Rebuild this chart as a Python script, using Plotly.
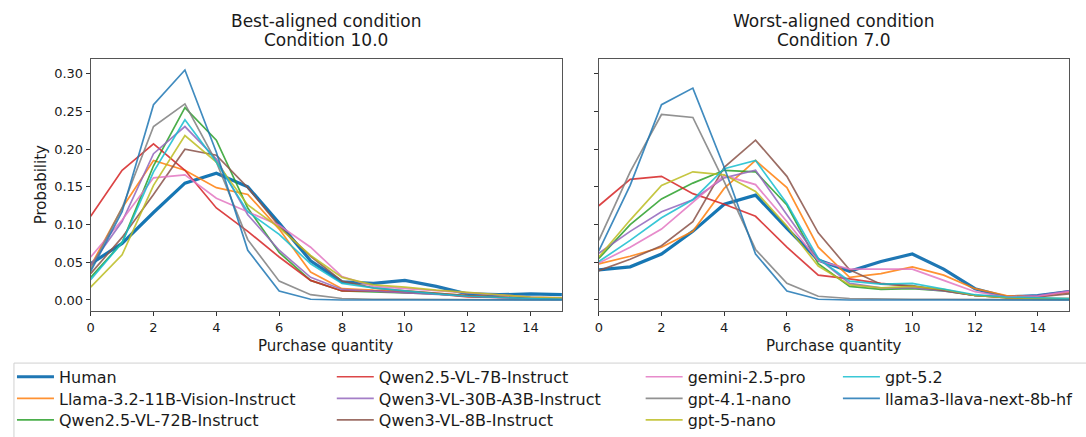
import plotly.graph_objects as go

W, H = 1086, 437

quantity = list(range(16))
x_ticks = [0, 2, 4, 6, 8, 10, 12, 14]
y_ticks = [0.0, 0.05, 0.10, 0.15, 0.20, 0.25, 0.30]

titles = [["Best-aligned condition", "Condition 10.0"], ["Worst-aligned condition", "Condition 7.0"]]
x_label = "Purchase quantity"
y_label = "Probability"

models = ["Human", "Llama-3.2-11B-Vision-Instruct", "Qwen2.5-VL-72B-Instruct",
          "Qwen2.5-VL-7B-Instruct", "Qwen3-VL-30B-A3B-Instruct", "Qwen3-VL-8B-Instruct",
          "gemini-2.5-pro", "gpt-4.1-nano", "gpt-5-nano", "gpt-5.2", "llama3-llava-next-8b-hf"]

colors = ["#1f77b4", "#ff7f0e", "#2ca02c", "#d62728", "#9467bd", "#8c564b",
          "#e377c2", "#7f7f7f", "#bcbd22", "#17becf", "#1f77b4"]

# Best-aligned condition (10.0)
best_human = [0.048, 0.075, 0.116, 0.155, 0.168, 0.150, 0.102, 0.052, 0.024, 0.022, 0.026, 0.018, 0.008, 0.007, 0.008, 0.007]
best_llama32 = [0.045, 0.122, 0.185, 0.172, 0.149, 0.140, 0.094, 0.037, 0.015, 0.013, 0.012, 0.009, 0.006, 0.004, 0.003, 0.002]
best_qwen25_72b = [0.030, 0.076, 0.178, 0.255, 0.212, 0.122, 0.063, 0.026, 0.012, 0.011, 0.010, 0.008, 0.005, 0.003, 0.002, 0.001]
best_qwen25_7b = [0.111, 0.172, 0.207, 0.172, 0.122, 0.091, 0.057, 0.026, 0.012, 0.012, 0.010, 0.008, 0.004, 0.003, 0.002, 0.002]
best_qwen3_30b = [0.046, 0.104, 0.194, 0.230, 0.187, 0.113, 0.066, 0.030, 0.014, 0.012, 0.010, 0.007, 0.005, 0.003, 0.002, 0.002]
best_qwen3_8b = [0.035, 0.083, 0.140, 0.200, 0.192, 0.149, 0.098, 0.058, 0.025, 0.016, 0.012, 0.009, 0.006, 0.004, 0.003, 0.002]
best_gemini = [0.057, 0.106, 0.162, 0.166, 0.135, 0.117, 0.099, 0.070, 0.031, 0.018, 0.015, 0.012, 0.010, 0.007, 0.004, 0.003]
best_gpt41nano = [0.041, 0.122, 0.230, 0.260, 0.183, 0.080, 0.025, 0.007, 0.002, 0.001, 0.001, 0.001, 0.001, 0.000, 0.000, 0.000]
best_gpt5nano = [0.017, 0.060, 0.152, 0.218, 0.183, 0.126, 0.096, 0.059, 0.030, 0.020, 0.017, 0.013, 0.010, 0.007, 0.004, 0.003]
best_gpt52 = [0.027, 0.076, 0.170, 0.239, 0.183, 0.117, 0.087, 0.048, 0.022, 0.016, 0.012, 0.008, 0.005, 0.003, 0.002, 0.001]
best_llava = [0.038, 0.117, 0.259, 0.305, 0.196, 0.066, 0.012, 0.001, 0.000, 0.000, 0.000, 0.000, 0.000, 0.000, 0.000, 0.000]

# Worst-aligned condition (7.0)
worst_human = [0.040, 0.044, 0.061, 0.091, 0.127, 0.139, 0.095, 0.053, 0.038, 0.051, 0.061, 0.041, 0.015, 0.004, 0.006, 0.011]
worst_llama32 = [0.048, 0.058, 0.070, 0.091, 0.148, 0.185, 0.149, 0.070, 0.030, 0.035, 0.044, 0.033, 0.015, 0.006, 0.005, 0.010]
worst_qwen25_72b = [0.055, 0.100, 0.134, 0.155, 0.172, 0.170, 0.126, 0.048, 0.018, 0.014, 0.015, 0.012, 0.006, 0.003, 0.002, 0.001]
worst_qwen25_7b = [0.125, 0.160, 0.164, 0.141, 0.127, 0.111, 0.070, 0.033, 0.028, 0.022, 0.018, 0.013, 0.006, 0.003, 0.002, 0.002]
worst_qwen3_30b = [0.062, 0.091, 0.117, 0.133, 0.162, 0.172, 0.113, 0.055, 0.022, 0.016, 0.016, 0.012, 0.006, 0.004, 0.006, 0.012]
worst_qwen3_8b = [0.039, 0.054, 0.072, 0.104, 0.176, 0.212, 0.164, 0.089, 0.040, 0.021, 0.019, 0.013, 0.006, 0.004, 0.004, 0.008]
worst_gemini = [0.049, 0.070, 0.094, 0.130, 0.165, 0.153, 0.104, 0.052, 0.041, 0.041, 0.041, 0.026, 0.011, 0.004, 0.005, 0.011]
worst_gpt41nano = [0.079, 0.170, 0.246, 0.242, 0.157, 0.067, 0.022, 0.005, 0.002, 0.001, 0.001, 0.001, 0.001, 0.000, 0.000, 0.000]
worst_gpt5nano = [0.057, 0.106, 0.152, 0.170, 0.166, 0.144, 0.098, 0.045, 0.020, 0.016, 0.018, 0.014, 0.006, 0.003, 0.002, 0.002]
worst_gpt52 = [0.051, 0.079, 0.109, 0.133, 0.174, 0.185, 0.128, 0.055, 0.025, 0.021, 0.022, 0.015, 0.007, 0.004, 0.003, 0.002]
worst_llava = [0.065, 0.152, 0.259, 0.281, 0.176, 0.061, 0.012, 0.001, 0.000, 0.000, 0.000, 0.000, 0.000, 0.000, 0.000, 0.000]

best = [best_human, best_llama32, best_qwen25_72b, best_qwen25_7b, best_qwen3_30b, best_qwen3_8b,
        best_gemini, best_gpt41nano, best_gpt5nano, best_gpt52, best_llava]
worst = [worst_human, worst_llama32, worst_qwen25_72b, worst_qwen25_7b, worst_qwen3_30b, worst_qwen3_8b,
         worst_gemini, worst_gpt41nano, worst_gpt5nano, worst_gpt52, worst_llava]

FONT = "DejaVu Sans"
TXT = "#1a1a1a"

def sx(p):
    return p / W

def sy(p):
    return 1 - p / H

fig = go.Figure()

# legend placement: matplotlib ncol=4, filled column by column
col_x = [8, 329, 639, 837]
row_y = [383, 405, 427]
leg_pos = []
for k in range(len(models)):
    leg_pos.append((col_x[k // 3], row_y[k % 3]))

for panel, (data, xa, ya) in enumerate([(best, "x", "y"), (worst, "x2", "y2")]):
    for i, (name, vals) in enumerate(zip(models, data)):
        fig.add_trace(go.Scatter(
            x=quantity, y=vals, mode="lines", name=name,
            line=dict(color=colors[i], width=3.2 if i == 0 else 1.7),
            opacity=1.0 if i == 0 else 0.85,
            xaxis=xa, yaxis=ya,
            showlegend=(panel == 0),
            legend="legend" if i == 0 else "legend%d" % (i + 1),
        ))

axis_common = dict(
    showgrid=False, zeroline=False, showline=True, mirror=True,
    linecolor="#555555", linewidth=1, ticks="outside", ticklen=4,
    tickcolor="#333333", tickfont=dict(family=FONT, size=13, color=TXT),
)

y0, y1 = 60, 316
yr = [-0.0145, 0.3195]
fig.update_layout(
    width=W, height=H,
    margin=dict(l=0, r=0, t=0, b=0),
    paper_bgcolor="white", plot_bgcolor="white",
    font=dict(family=FONT, color=TXT),
    xaxis=dict(domain=[sx(87), sx(560)], range=[0, 15], tickvals=x_ticks, anchor="y", **axis_common),
    yaxis=dict(domain=[sy(y1), sy(y0)], range=yr, tickvals=y_ticks,
               tickformat=".2f", anchor="x", **axis_common),
    xaxis2=dict(domain=[sx(597), sx(1069)], range=[0, 15], tickvals=x_ticks, anchor="y2", **axis_common),
    yaxis2=dict(domain=[sy(y1), sy(y0)], range=yr, tickvals=y_ticks,
                showticklabels=False, anchor="x2", matches="y", **axis_common),
)

leg_layout = {}
for i, (lx, ly) in enumerate(leg_pos):
    key = "legend" if i == 0 else "legend%d" % (i + 1)
    leg_layout[key] = dict(font=dict(family=FONT, size=16, color=TXT), bgcolor="rgba(0,0,0,0)",
                           orientation="v", xanchor="left", yanchor="middle",
                           x=sx(lx), y=sy(ly), itemwidth=37, borderwidth=0)
fig.update_layout(**leg_layout)

# legend frame
fig.add_shape(type="rect", xref="paper", yref="paper",
              x0=sx(10), x1=sx(1100), y0=sy(460), y1=sy(369),
              line=dict(color="#d0d0d0", width=1), fillcolor="rgba(0,0,0,0)", layer="below")

annots = []
for (t1, t2), cx in zip(titles, [323.5, 833.5]):
    annots.append(dict(text=t1, x=sx(cx), y=sy(21.5), xref="paper", yref="paper",
                       showarrow=False, xanchor="center", yanchor="middle",
                       font=dict(family=FONT, size=17, color=TXT)))
    annots.append(dict(text=t2, x=sx(cx), y=sy(41), xref="paper", yref="paper",
                       showarrow=False, xanchor="center", yanchor="middle",
                       font=dict(family=FONT, size=17, color=TXT)))
    annots.append(dict(text=x_label, x=sx(cx), y=sy(352), xref="paper", yref="paper",
                       showarrow=False, xanchor="center", yanchor="middle",
                       font=dict(family=FONT, size=15, color=TXT)))
annots.append(dict(text=y_label, x=sx(37.5), y=sy((y0 + y1) / 2), xref="paper", yref="paper",
                   showarrow=False, xanchor="center", yanchor="middle", textangle=-90,
                   font=dict(family=FONT, size=15, color=TXT)))
fig.update_layout(annotations=annots)

fig.write_html(
    "out.html",
    config={"displayModeBar": False},
    post_script="document.body.style.margin='0px';document.body.style.padding='0px';"
                "document.documentElement.style.overflow='hidden';",
)
